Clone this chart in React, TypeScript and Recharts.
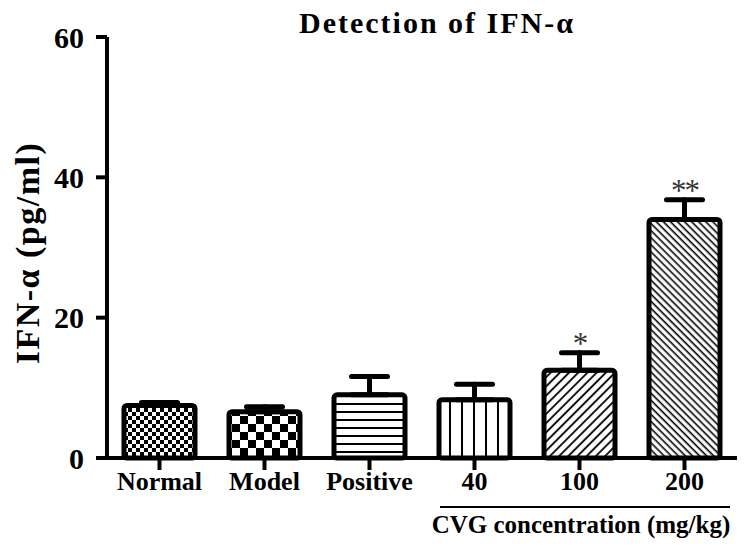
import { BarChart, Bar, XAxis, YAxis, ErrorBar, Cell, LabelList } from "recharts";

// groups and values (pg/ml, mean and upper error)
const groups = ["Normal", "Model", "Positive", "40", "100", "200"];
const means = [7.5, 6.6, 9.0, 8.3, 12.5, 34.0];
const sems = [0.4, 0.7, 2.6, 2.2, 2.5, 2.8];
const marks = ["", "", "", "", "*", "**"];
const yTicks = [0, 20, 40, 60];
const patternIds = ["chkSmall", "chkBig", "hLines", "vLines", "diagUp", "diagDown"];

const data = groups.map((g, i) => ({
  group: g,
  mean: means[i],
  err: [0, sems[i]],
  mark: marks[i],
}));

const FONT = '"Liberation Serif", "Times New Roman", serif';

function StarLabel(props: any) {
  const { x, y, width, height, index } = props;
  const txt = marks[index];
  if (!txt) return null;
  const k = height / means[index];
  const capY = y - sems[index] * k;
  return (
    <text
      x={x + width / 2}
      y={capY + 1}
      textAnchor="middle"
      fontFamily={FONT}
      fontSize={31}
      letterSpacing={-2}
      fill="#333"
    >
      {txt}
    </text>
  );
}

export default function App() {
  return (
    <div style={{ position: "absolute", left: 0, top: 0, width: 748, height: 548, background: "white" }}>
      <BarChart
        width={748}
        height={548}
        data={data}
        margin={{ top: 37, right: 11, bottom: 50, left: 0 }}
      >
        <defs>
          <pattern id="chkSmall" width="8" height="8" patternUnits="userSpaceOnUse">
            <rect width="8" height="8" fill="white" />
            <rect width="4" height="4" fill="black" />
            <rect x="4" y="4" width="4" height="4" fill="black" />
          </pattern>
          <pattern id="chkBig" width="16" height="16" patternUnits="userSpaceOnUse">
            <rect width="16" height="16" fill="white" />
            <rect width="8" height="8" fill="black" />
            <rect x="8" y="8" width="8" height="8" fill="black" />
          </pattern>
          <pattern id="hLines" width="8" height="8" patternUnits="userSpaceOnUse">
            <rect width="8" height="8" fill="white" />
            <rect y="3" width="8" height="2" fill="black" />
          </pattern>
          <pattern id="vLines" width="12" height="12" patternUnits="userSpaceOnUse">
            <rect width="12" height="12" fill="white" />
            <rect x="5" width="2" height="12" fill="black" />
          </pattern>
          <pattern id="diagUp" width="6.5" height="6.5" patternUnits="userSpaceOnUse" patternTransform="rotate(45)">
            <rect width="6.5" height="6.5" fill="white" />
            <rect x="2" width="1.8" height="6.5" fill="black" />
          </pattern>
          <pattern id="diagDown" width="5" height="5" patternUnits="userSpaceOnUse" patternTransform="rotate(-45)">
            <rect width="5" height="5" fill="white" />
            <rect x="1.5" width="1.6" height="5" fill="black" />
          </pattern>
        </defs>
        <XAxis
          dataKey="group"
          interval={0}
          height={40}
          axisLine={{ stroke: "#000", strokeWidth: 4 }}
          tickLine={{ stroke: "#000", strokeWidth: 4 }}
          tickSize={12}
          tickMargin={2}
          tick={{ fill: "#000", fontSize: 26, fontWeight: 700, fontFamily: FONT }}
        />
        <YAxis
          domain={[0, 60]}
          ticks={yTicks}
          width={107}
          axisLine={{ stroke: "#000", strokeWidth: 4 }}
          tickLine={{ stroke: "#000", strokeWidth: 4 }}
          tickSize={11}
          tickMargin={12}
          tick={{ fill: "#000", fontSize: 30, fontWeight: 700, fontFamily: FONT }}
        />
        <Bar
          dataKey="mean"
          barSize={71}
          stroke="#000"
          strokeWidth={5}
          radius={3}
          isAnimationActive={false}
        >
          {data.map((d, i) => (
            <Cell key={d.group} fill={`url(#${patternIds[i]})`} />
          ))}
          <ErrorBar
            dataKey="err"
            direction="y"
            width={18}
            stroke="#000"
            strokeWidth={5}
            strokeLinecap="round"
            isAnimationActive={false}
          />
          <LabelList dataKey="mark" content={StarLabel} />
        </Bar>
      </BarChart>

      {/* titles and the dose bracket drawn over the chart */}
      <svg
        width={748}
        height={548}
        style={{ position: "absolute", left: 0, top: 0, pointerEvents: "none" }}
      >
        <text x={437} y={33} textAnchor="middle" fontFamily={FONT} fontSize={30} fontWeight={700} letterSpacing={2}>
          Detection of IFN-α
        </text>
        <text
          x={39}
          y={253}
          transform="rotate(-90, 39, 253)"
          textAnchor="middle"
          fontFamily={FONT}
          fontSize={34}
          fontWeight={700}
          letterSpacing={1.5}
        >
          IFN-α (pg/ml)
        </text>
        <line x1={440} x2={730} y1={507} y2={507} stroke="#000" strokeWidth={2} />
        <text x={581} y={533} textAnchor="middle" fontFamily={FONT} fontSize={25} fontWeight={700}>
          CVG concentration (mg/kg)
        </text>
      </svg>
    </div>
  );
}
